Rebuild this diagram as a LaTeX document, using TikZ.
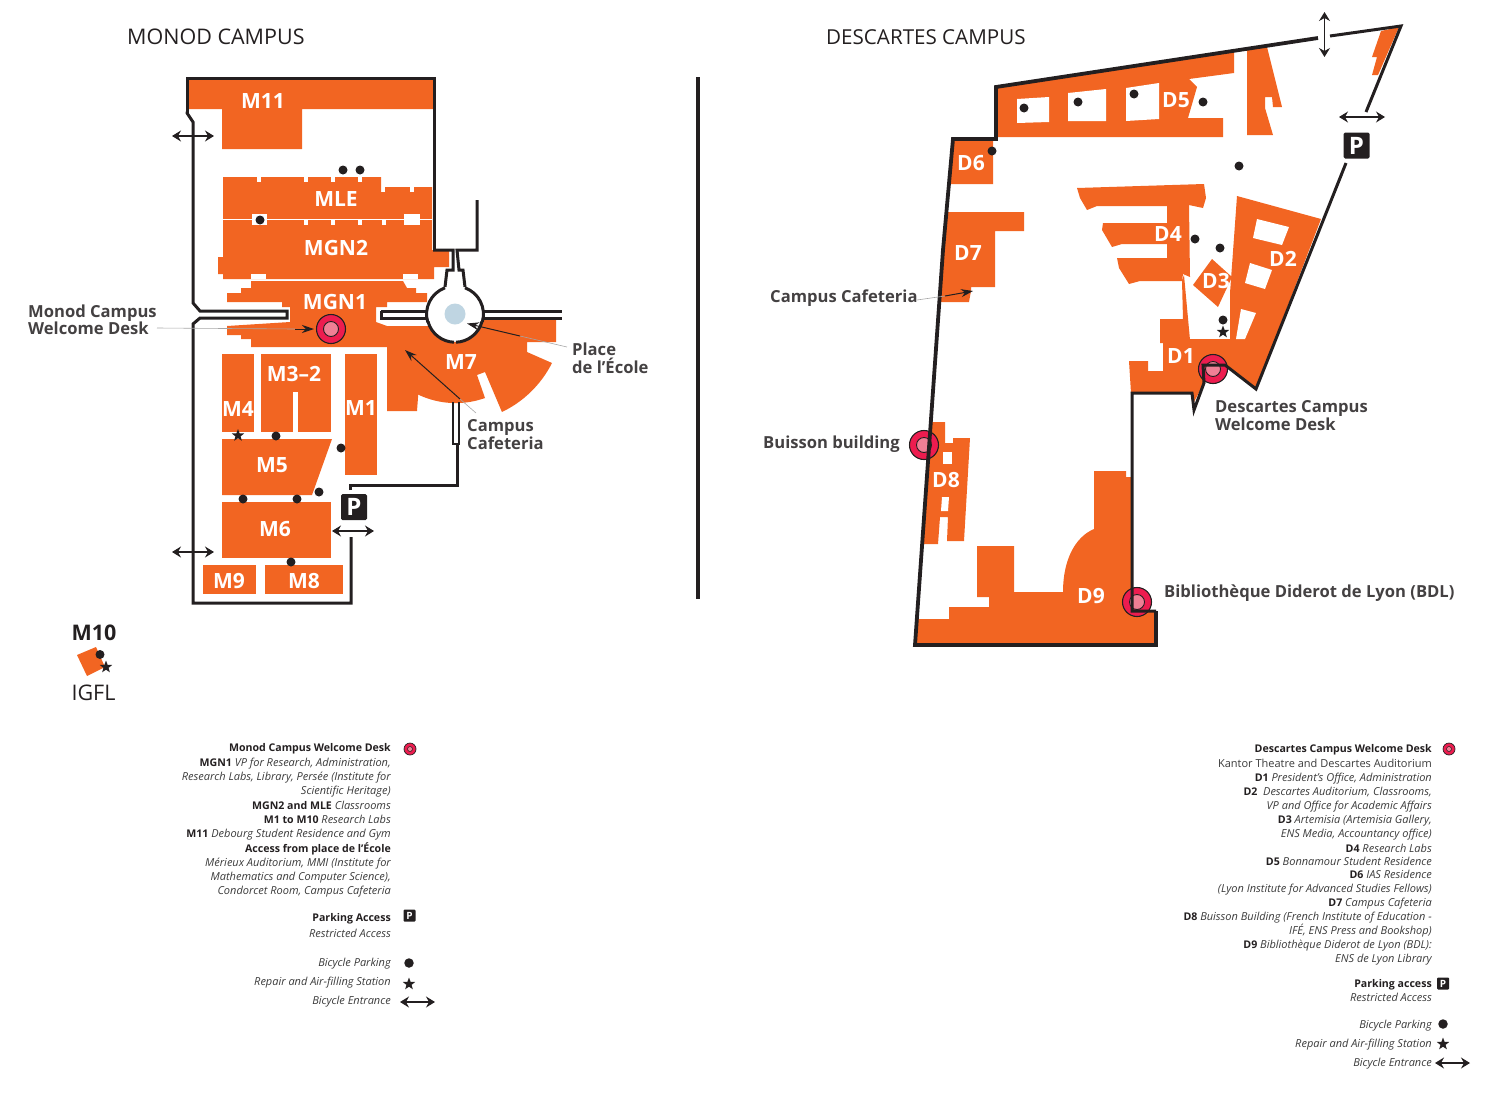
\documentclass[tikz,border=0pt]{standalone}
\usepackage{fontspec}
\setmainfont{Open Sans}
\usetikzlibrary{arrows.meta,shapes.geometric}
\definecolor{bld}{HTML}{F26522}
\definecolor{ink}{HTML}{231F20}
\definecolor{txt}{HTML}{3A3A3A}
\definecolor{rose}{HTML}{ED1C4F}
\definecolor{pinkin}{HTML}{F07F95}
\definecolor{pond}{HTML}{BFD5E2}
\tikzset{
  building/.style={fill=bld,draw=none},
  gap/.style={fill=white,draw=none},
  wall/.style={draw=ink,line width=3pt,line join=miter,line cap=butt},
  heavy/.style={draw=ink,line width=3.8pt,line join=miter,line cap=butt},
  bldlabel/.style={text=white,font=\fontsize{21}{22}\selectfont\bfseries,inner sep=0pt},
  maplabel/.style={text=ink!85,font=\fontsize{16.6}{17.5}\selectfont\bfseries,inner sep=0pt,anchor=west,align=left},
  title/.style={text=ink,font=\fontsize{21.5}{22}\selectfont,inner sep=0pt,anchor=west},
  bikedot/.style={circle,fill=ink,minimum size=9pt,inner sep=0pt,draw=none},
  bikestar/.style={star,star points=5,star point ratio=2.4,fill=ink,minimum size=13pt,inner sep=0pt,draw=none},
  parkbox/.style={fill=ink,text=white,rounded corners=1.5pt,minimum size=26pt,inner sep=0pt,font=\fontsize{24}{24}\selectfont\bfseries},
  parksmall/.style={fill=ink,text=white,rounded corners=1pt,minimum size=12pt,inner sep=0pt,font=\fontsize{10}{10}\selectfont\bfseries},
  bikeway/.style={draw=ink,line width=1.2pt,{Stealth[length=9pt,width=11pt,inset=3pt]}-{Stealth[length=9pt,width=11pt,inset=3pt]}},
  deskouter/.style={circle,fill=rose,draw=ink,line width=1.1pt,minimum size=29pt,inner sep=0pt},
  deskinner/.style={circle,fill=pinkin,draw=ink,line width=.9pt,minimum size=15pt,inner sep=0pt},
  leadgray/.style={draw=gray!70,line width=.6pt},
  pointer/.style={draw=ink,line width=1pt,-{Stealth[length=12pt,width=8pt]}},
  legend/.style={text=txt,font=\fontsize{11}{14}\selectfont,inner sep=0pt,anchor=east,align=right},
}
\newcommand{\lb}[1]{{\fontsize{10.6}{14}\selectfont\bfseries\color{ink}#1}}
\newcommand{\li}[1]{{\itshape #1}}
\begin{document}
\begin{tikzpicture}[x=1pt,y=-1pt]
\useasboundingbox (0,0) rectangle (1500,1101);
% ------------ titles and divider
\node[title] (t1) at (127,36.5) {MONOD CAMPUS};
\node[title,font=\fontsize{20.6}{22}\selectfont] (t2) at (826,37) {DESCARTES CAMPUS};
\draw[line width=4pt,ink] (698,77) -- (698,599);
% ------------ MONOD buildings
\fill[building] (187,78) -- (434,78) -- (434,109) -- (302,109) -- (302,149) -- (222,149) -- (222,109) -- (187,109) -- cycle;
% MLE + MGN2
\fill[building] (223,177) -- (381,177) -- (381,192) -- (385,192) -- (385,187) -- (432,187) -- (432,250) -- (449,250) -- (449,267) -- (434,267) -- (434,279) -- (223,279) -- (223,274) -- (218,274) -- (218,257) -- (223,257) -- cycle;
\fill[gap] (223,218.6) rectangle (432,220);
\foreach \a/\b/\c in {257/261/177,304/308/177,331/335/177,358/362/177,410/414/187}{\fill[gap] (\a,\c) rectangle (\b,\c+5);}
\foreach \a in {304,331,358,382}{\fill[gap] (\a,220) rectangle (\a+4,225);}
\fill[gap] (252,214) rectangle (267,225);
\fill[gap] (404,214) rectangle (420,225);
\fill[gap] (251,274) rectangle (266,279);
\fill[gap] (403,274) rectangle (418,279);
% MGN1 + M7
\fill[building] (251,281) -- (403,281) -- (407,288) -- (416,288) -- (416,293) -- (427,293) -- (427,302) -- (387,302) -- (387,307) -- (376,307) -- (376,322) -- (387,326) -- (430,326) -- (483,319) -- (556,319) -- (556,342) -- (527,342) -- (527,352) -- (552,363)
  arc[start angle=26.8,end angle=64.4,radius=108.7] -- (485,372) -- (477,375) -- (485,398)
  arc[start angle=70.3,end angle=115.5,radius=87] -- (417,411) -- (387,411) -- (387,347) -- (251,347) -- (251,339) -- (241,339) -- (241,335) -- (227,335) -- (227,326) -- (290,322) -- (290,307) -- (282,307) -- (282,302) -- (227,302) -- (227,293) -- (241,293) -- (241,288) -- (251,288) -- cycle;
% lower blocks
\fill[building] (222,354) rectangle (254,432);
\fill[building] (261,354) rectangle (331,432);
\fill[gap] (293,392) rectangle (298,432);
\fill[building] (345,354) rectangle (377,475);
\fill[building] (222,439) -- (332,439) -- (312,495) -- (222,495) -- cycle;
\fill[building] (222,502) rectangle (331,558);
\fill[building] (203,565) rectangle (256,594);
\fill[building] (265,565) rectangle (343,594);
% ------------ MONOD walls
\draw[wall] (187,113) -- (187,78) -- (434,78) -- (434,109);
\draw[wall] (187,111.5) -- (187,113) -- (193,122) -- (193,303) -- (200,311) -- (287,311) -- (287,318) -- (200,318) -- (193,324) -- (193,603) -- (351,603) -- (351,537);
\draw[wall] (434,109) -- (434,250);
\draw[wall] (350,490) -- (350,485) -- (457,485) -- (457,445);
\draw[wall,line width=2.2pt] (453,402) -- (453,444) -- (459,444) -- (459,402);
\draw[wall] (433,250) -- (453,250) -- (453,270) -- (447,270) -- (445,287);
\draw[wall] (477,200) -- (477,250) -- (457,250) -- (459,270) -- (463,270) -- (465,287);
\fill[white] (455,314) circle[radius=28];
\draw[wall] (381,311) -- (428,311);
\draw[wall] (381,311) -- (381,318) -- (428,318);
\draw[wall] (483,311) -- (562,311);
\draw[wall] (483,318) -- (562,318);
\draw[wall] (445,287.8) arc[start angle=-110,end angle=-197,radius=28];
\draw[wall] (465,287.8) arc[start angle=-70,end angle=16,radius=28];
\draw[wall] (428,321.5) arc[start angle=165,end angle=92,radius=28];
\draw[wall] (482,321.5) arc[start angle=15,end angle=88,radius=28];
\fill[pond] (455,314) circle[radius=10.5];
% MONOD desk and dots
\node[deskouter] (mdesk) at (331,329) {};
\node[deskinner] (mdeskin) at (331,329) {};
\node[bikedot] (md1) at (343,170) {};
\node[bikedot] (md2) at (360,170) {};
\node[bikedot] (md3) at (260,220) {};
\node[bikedot] (md4) at (276,436) {};
\node[bikedot] (md5) at (341,448) {};
\node[bikedot] (md6) at (243,499) {};
\node[bikedot] (md7) at (297,499) {};
\node[bikedot] (md8) at (319,492) {};
\node[bikedot] (md9) at (291,562) {};
\node[bikestar] (mstar) at (238,435.5) {};
\node[parkbox] (mpark) at (354,507) {P};
\coordinate (mb1a) at (172,136); \coordinate (mb1b) at (214,136);
\coordinate (mb2a) at (172,552); \coordinate (mb2b) at (214,552);
\coordinate (mb3a) at (332,531); \coordinate (mb3b) at (374,531);
\draw[bikeway] (mb1a) -- (mb1b);
\draw[bikeway] (mb2a) -- (mb2b);
\draw[bikeway] (mb3a) -- (mb3b);
% MONOD labels
\node[bldlabel] (M11) at (263,101) {M11};
\node[bldlabel] (MLE) at (336,199) {MLE};
\node[bldlabel] (MGN2) at (336,248) {MGN2};
\node[bldlabel] (MGN1) at (335,302) {MGN1};
\node[bldlabel] (M32) at (294,374) {M3–2};
\node[bldlabel] (M4) at (238,409) {M4};
\node[bldlabel] (M1) at (361,408) {M1};
\node[bldlabel] (M5) at (272,465) {M5};
\node[bldlabel] (M6) at (275,529) {M6};
\node[bldlabel] (M9) at (229,581) {M9};
\node[bldlabel] (M8) at (304,581) {M8};
\node[bldlabel] (M7) at (461,362) {M7};
\node[maplabel] (lmdesk) at (28,320) {Monod Campus\\Welcome Desk};
\node[maplabel] (lplace) at (572,358.5) {Place\\de l’École};
\node[maplabel] (lcaf) at (467,434.5) {Campus\\Cafeteria};
\coordinate (p1) at (157,328); \coordinate (p1b) at (295,329); \coordinate (p1c) at (314,329);
\draw[leadgray] (p1) -- (p1b);
\draw[pointer] (p1b) -- (p1c);
\coordinate (p2) at (567,347); \coordinate (p2b) at (520,336); \coordinate (p2c) at (467,323.5);
\draw[leadgray] (p2) -- (p2b);
\draw[pointer] (p2b) -- (p2c);
\coordinate (p3) at (476,413); \coordinate (p3b) at (460,399); \coordinate (p3c) at (405,350);
\draw[leadgray] (p3) -- (p3b);
\draw[pointer] (p3b) -- (p3c);
% M10
\node[text=ink,font=\fontsize{21.5}{22}\selectfont\bfseries,inner sep=0pt] (M10) at (94,632.5) {M10};
\fill[building] (77,655) -- (96,647) -- (105,667) -- (87,676) -- cycle;
\node[bikedot,minimum size=9pt] (igd) at (100,654.5) {};
\node[bikestar] (igs) at (106,667) {};
\node[text=ink,font=\fontsize{21.5}{22}\selectfont,inner sep=0pt] (IGFL) at (93.5,693) {IGFL};
% ------------ DESCARTES buildings
% D5
\fill[building] (996,87) -- (1234,51) -- (1234,73) -- (1189,79) -- (1197,87) -- (1188,118) -- (1223,118) -- (1223,137) -- (996,137) -- cycle;
\fill[gap] (1017,99) -- (1049,97) -- (1049,122) -- (1017,123) -- cycle;
\fill[gap] (1068,93) -- (1106,89) -- (1106,121) -- (1068,121) -- cycle;
\fill[gap] (1126,88) -- (1159,83) -- (1159,119) -- (1126,121) -- cycle;
\fill[building] (1247,50) -- (1267,47) -- (1282,107) -- (1273,107) -- (1272,97) -- (1265,97) -- (1265,108) -- (1273,135) -- (1247,135) -- cycle;
\fill[building] (1381,31) -- (1399,27) -- (1378,75) -- (1372,75) -- (1377,57) -- (1372,57) -- cycle;
% D6
\fill[building] (953,140) -- (993,140) -- (993,184) -- (950,184) -- cycle;
% D7
\fill[building] (947,212) -- (1024,212) -- (1024,231) -- (995,231) -- (995,287) -- (971,287) -- (971,291) -- (969,302) -- (938,302) -- cycle;
% D4
\fill[building] (1077,188) -- (1204,184) -- (1206,198) -- (1203,208) -- (1189,205) -- (1190,277) -- (1183,274) -- (1182,281) -- (1140,281) -- (1129,284) -- (1119,268) -- (1117,258) -- (1167,258) -- (1167,244) -- (1122,244) -- (1112,247) -- (1102,230) -- (1103,223) -- (1167,223) -- (1167,206) -- (1097,206) -- (1087,210) -- (1080,198) -- cycle;
\fill[building] (1182,280) -- (1184,275) -- (1190,340) -- (1186,340) -- (1183,320) -- cycle;
% D3
\fill[building] (1212,259) -- (1232,277) -- (1218,307) -- (1193,285) -- cycle;
% D1 + D2
\fill[building] (1237,196) -- (1321,219) -- (1256,389) -- (1225,365) -- (1203,365) -- (1204,383) -- (1194,402) -- (1192,393) -- (1131,393) -- (1129,361) -- (1148,361) -- (1148,371) -- (1163,371) -- (1163,343) -- (1160,343) -- (1160,319) -- (1186,319) -- (1189,339) -- (1230,339) -- (1230,293) -- cycle;
\fill[gap] (1257,219) -- (1289,227) -- (1282,245) -- (1253,238) -- cycle;
\fill[gap] (1250,263) -- (1272,270) -- (1265,289) -- (1245,283) -- cycle;
\fill[gap] (1241,309) -- (1256,313) -- (1245,339) -- (1236,339) -- cycle;
% D8
\fill[building] (931,422) -- (945,422) -- (945,443) -- (953,443) -- (953,438) -- (970,438) -- (964,541) -- (947,541) -- (948,517) -- (940,517) -- (938,544) -- (923,544) -- cycle;
\fill[gap] (943,452) rectangle (952,464);
\fill[gap] (942,497) -- (949,497) -- (948,511) -- (941,511) -- cycle;
% D9
\fill[building] (918,619) -- (949,619) -- (949,607) -- (989,607) -- (989,597) -- (977,597) -- (977,546) -- (1014,546) -- (1014,592) -- (1063,592) .. controls (1063,560) and (1075,537) .. (1094,529) -- (1094,471) -- (1126,471) -- (1126,477) -- (1132,477) -- (1132,611) -- (1156,611) -- (1156,645) -- (915,645) -- cycle;
% DESCARTES desks (under the walls)
\node[deskouter] (ddesk) at (1213,369) {};
\node[deskinner] (ddeskin) at (1213,369) {};
\node[deskouter] (bdesk) at (924,445) {};
\node[deskinner] (bdeskin) at (924,445) {};
\node[deskouter] (ldesk) at (1137,602) {};
\node[deskinner] (ldeskin) at (1137,602) {};
% DESCARTES walls
\draw[heavy] (1318,38) -- (996,87) -- (996,139) -- (953,139) -- (943,250);
\draw[wall] (1330,36) -- (1401,26) -- (1366,112);
\draw[wall] (1346,163) -- (1256,389) -- (1225,365) -- (1203,365) -- (1204,383) -- (1194,410) -- (1192,393) -- (1132,393) -- (1132,611) -- (1156,611);
\draw[heavy] (943,250) -- (915,645) -- (1156,645) -- (1156,611);
% DESCARTES dots etc
\node[bikedot] (dd1) at (1024,108) {};
\node[bikedot] (dd2) at (1078,102) {};
\node[bikedot] (dd3) at (1134,94) {};
\node[bikedot] (dd4) at (1203,102) {};
\node[bikedot] (dd5) at (992,151) {};
\node[bikedot] (dd6) at (1239,166) {};
\node[bikedot] (dd7) at (1195,239) {};
\node[bikedot] (dd8) at (1220,248) {};
\node[bikedot] (dd9) at (1223,320) {};
\node[bikestar] (dstar) at (1223,332) {};
\node[parkbox] (dpark) at (1356.5,145.5) {P};
\coordinate (db1a) at (1339,117); \coordinate (db1b) at (1385,117);
\coordinate (db2a) at (1324.5,12); \coordinate (db2b) at (1324.5,57);
\draw[bikeway] (db1a) -- (db1b);
\draw[bikeway] (db2a) -- (db2b);
% DESCARTES labels
\node[bldlabel] (D5) at (1176,100) {D5};
\node[bldlabel] (D6) at (971,163) {D6};
\node[bldlabel] (D7) at (968,253) {D7};
\node[bldlabel] (D4) at (1168,234) {D4};
\node[bldlabel] (D3) at (1216,281) {D3};
\node[bldlabel] (D2) at (1283,259) {D2};
\node[bldlabel] (D1) at (1181,356) {D1};
\node[bldlabel] (D8) at (946,480) {D8};
\node[bldlabel] (D9) at (1091,596) {D9};
\node[maplabel] (lcafd) at (770,298) {Campus Cafeteria};
\node[maplabel] (lbuis) at (763,444) {Buisson building};
\node[maplabel] (lbdl) at (1164,593) {Bibliothèque Diderot de Lyon (BDL)};
\node[maplabel] (lddesk) at (1215,415.5) {Descartes Campus\\Welcome Desk};
\coordinate (q1) at (917,300); \coordinate (q1b) at (945,296); \coordinate (q1c) at (973,291);
\draw[leadgray] (q1) -- (q1b);
\draw[pointer] (q1b) -- (q1c);
% ------------ legend MONOD
\node[legend] (lg1) at (391,748.5) {\lb{Monod Campus Welcome Desk}};
\node[legend] (lg2) at (391,778) {\lb{MGN1} \li{VP for Research, Administration,}\\\li{Research Labs, Library, Persée (Institute for}\\\li{Scientific Heritage)}};
\node[legend] (lg3) at (391,805) {\lb{MGN2 and MLE} \li{Classrooms}};
\node[legend] (lg4) at (391,819.5) {\lb{M1 to M10} \li{Research Labs}};
\node[legend] (lg5) at (391,835) {\lb{M11} \li{Debourg Student Residence and Gym}};
\node[legend] (lg6) at (391,848.5) {\lb{Access from place de l’École}};
\node[legend] (lg7) at (391,878) {\li{Mérieux Auditorium, MMI (Institute for}\\\li{Mathematics and Computer Science),}\\\li{Condorcet Room, Campus Cafeteria}};
\node[legend] (lg8) at (391,918.5) {\lb{Parking Access}};
\node[legend] (lg9) at (391,933) {\li{Restricted Access}};
\node[legend] (lg10) at (391,964) {\li{Bicycle Parking}};
\node[legend] (lg11) at (391,983) {\li{Repair and Air-filling Station}};
\node[legend] (lg12) at (391,1002) {\li{Bicycle Entrance}};
\node[deskouter,minimum size=12pt,line width=.7pt] (ik1) at (410,749) {};
\node[circle,fill=pinkin,draw=ink,line width=.5pt,minimum size=5pt,inner sep=0pt] (ik1i) at (410,749) {};
\node[parksmall] (ik2) at (409.5,915.5) {P};
\node[bikedot,minimum size=9.5pt] (ik3) at (409,963) {};
\node[bikestar] (ik4) at (409,984) {};
\coordinate (ik5a) at (400,1002); \coordinate (ik5b) at (435,1002);
\draw[bikeway] (ik5a) -- (ik5b);
% ------------ legend DESCARTES
\node[legend] (rg1) at (1432,749.5) {\lb{Descartes Campus Welcome Desk}};
\node[legend] (rg2) at (1432,763.5) {Kantor Theatre and Descartes Auditorium};
\node[legend] (rg3) at (1432,778.5) {\lb{D1} \li{President’s Office, Administration}};
\node[legend] (rg4) at (1432,799.5) {\lb{D2}\ \ \li{Descartes Auditorium, Classrooms,}\\\li{VP and Office for Academic Affairs}};
\node[legend] (rg5) at (1432,828) {\lb{D3} \li{Artemisia (Artemisia Gallery,}\\\li{ENS Media, Accountancy office)}};
\node[legend] (rg6) at (1432,848) {\lb{D4} \li{Research Labs}};
\node[legend] (rg7) at (1432,861.5) {\lb{D5} \li{Bonnamour Student Residence}};
\node[legend] (rg8) at (1432,882.5) {\lb{D6} \li{IAS Residence}\\\li{(Lyon Institute for Advanced Studies Fellows)}};
\node[legend] (rg9) at (1432,903.5) {\lb{D7} \li{Campus Cafeteria}};
\node[legend] (rg10) at (1432,925) {\lb{D8} \li{Buisson Building (French Institute of Education -}\\\li{IFÉ, ENS Press and Bookshop)}};
\node[legend] (rg11) at (1432,953) {\lb{D9} \li{Bibliothèque Diderot de Lyon (BDL):}\\\li{ENS de Lyon Library}};
\node[legend] (rg12) at (1432,985) {\lb{Parking access}};
\node[legend] (rg13) at (1432,997) {\li{Restricted Access}};
\node[legend] (rg14) at (1432,1026) {\li{Bicycle Parking}};
\node[legend] (rg15) at (1432,1045) {\li{Repair and Air-filling Station}};
\node[legend] (rg16) at (1432,1064) {\li{Bicycle Entrance}};
\node[deskouter,minimum size=12pt,line width=.7pt] (jk1) at (1449,749) {};
\node[circle,fill=pinkin,draw=ink,line width=.5pt,minimum size=5pt,inner sep=0pt] (jk1i) at (1449,749) {};
\node[parksmall] (jk2) at (1443,983.5) {P};
\node[bikedot,minimum size=9.5pt] (jk3) at (1443,1024) {};
\node[bikestar] (jk4) at (1443,1044) {};
\coordinate (jk5a) at (1435,1063); \coordinate (jk5b) at (1470,1063);
\draw[bikeway] (jk5a) -- (jk5b);
\end{tikzpicture}
\end{document}
